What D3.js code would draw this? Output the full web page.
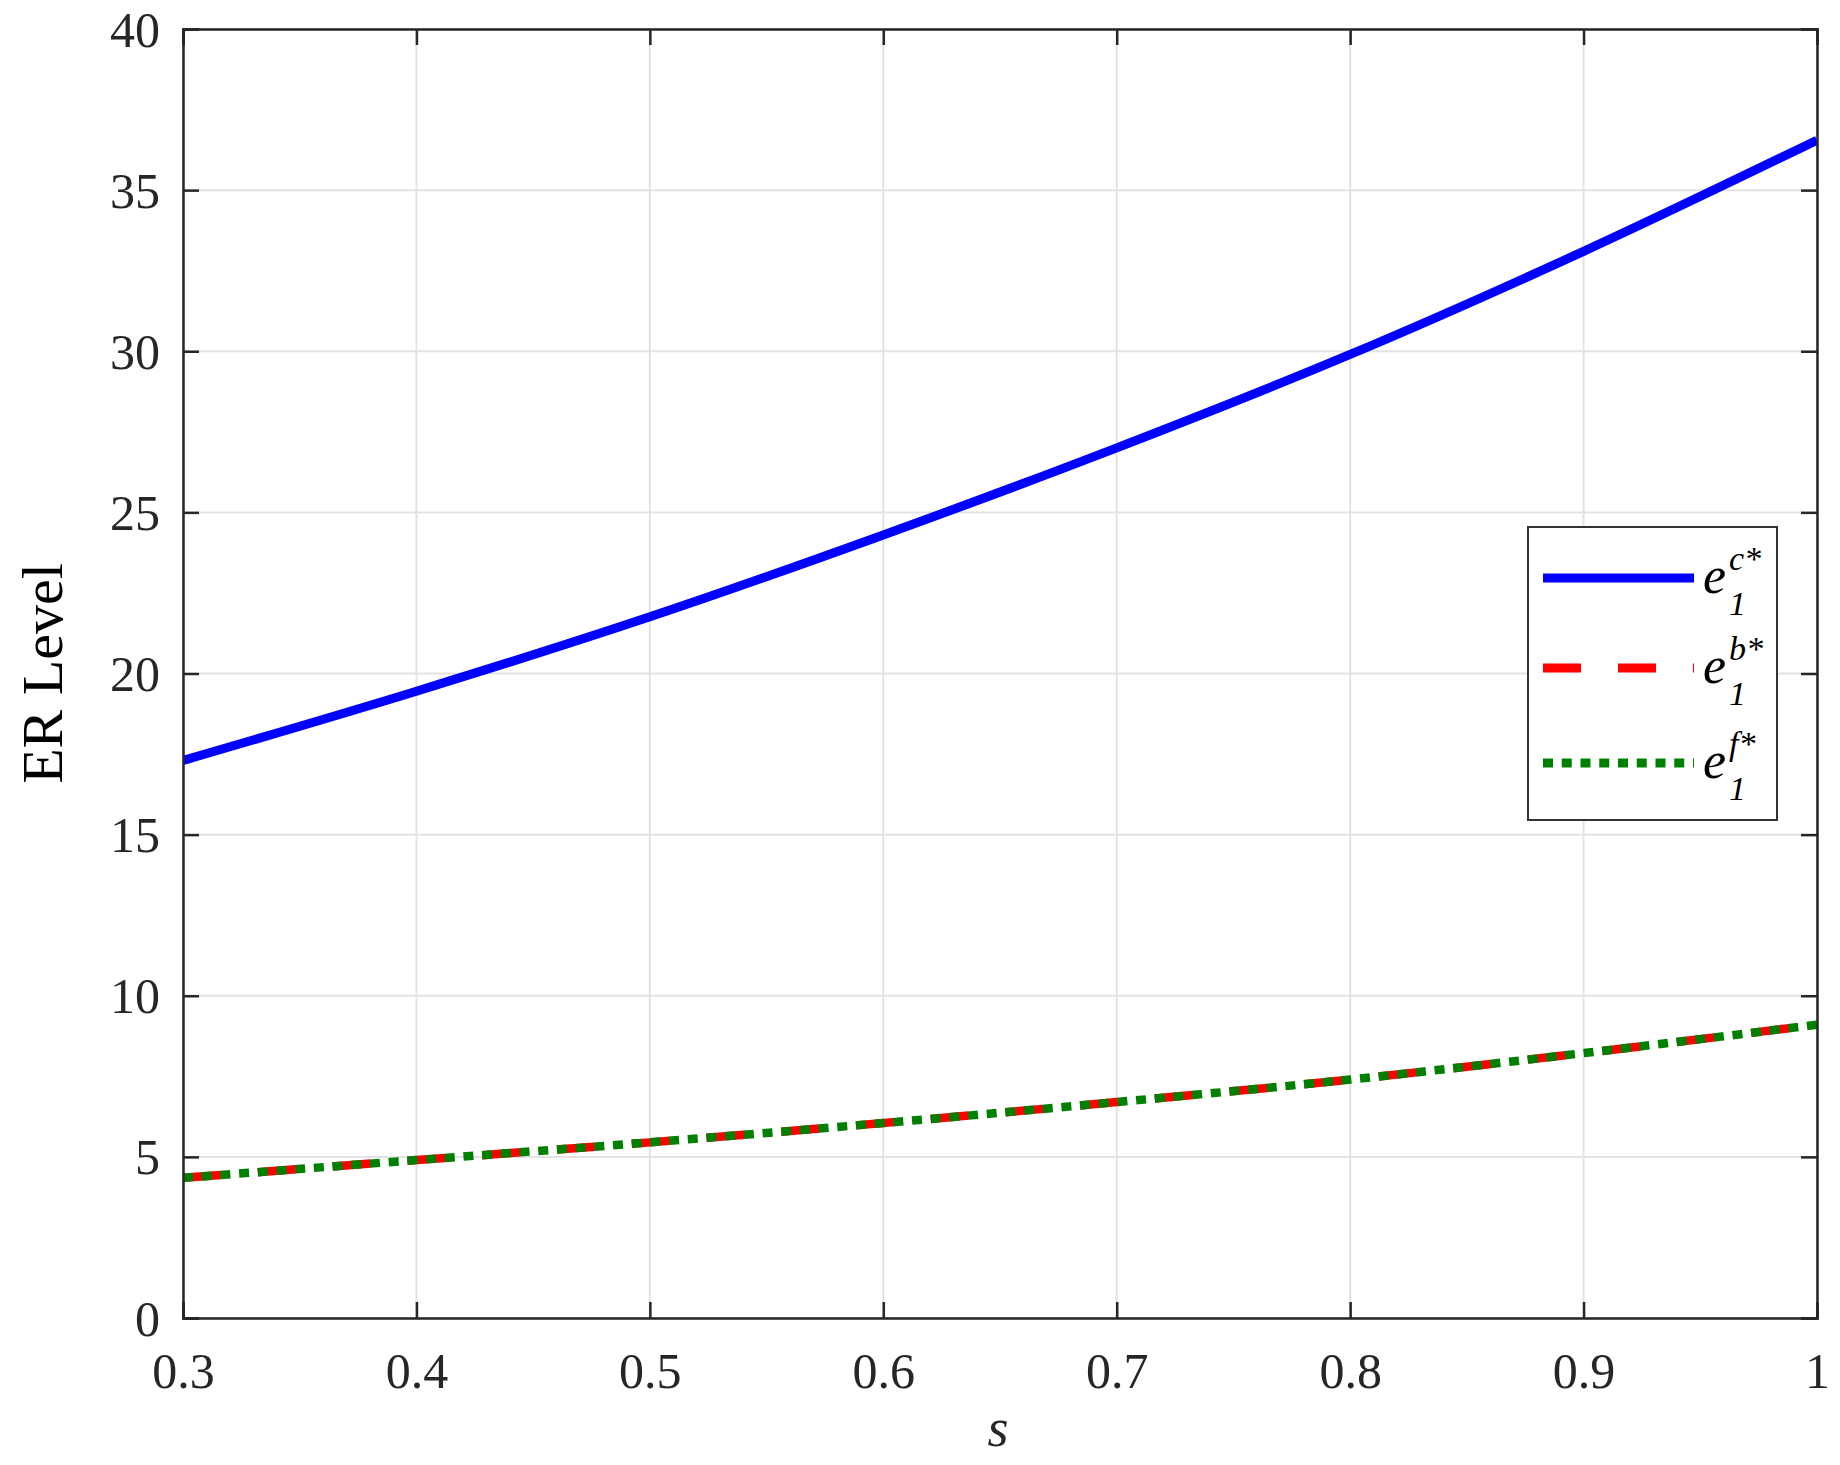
<!DOCTYPE html>
<html>
<head>
<meta charset="utf-8">
<script src="https://cdn.jsdelivr.net/npm/d3@7"></script>
<style>
  html, body { margin: 0; padding: 0; background: #fff; }
  svg { display: block; }
</style>
</head>
<body>
<script>
// ---- data ----
const sValues = [0.3, 0.4, 0.5, 0.6, 0.7, 0.8, 0.9, 1.0];
const e1c = [17.3, 19.45, 21.76, 24.3, 27.0, 29.9, 33.1, 36.55];
const e1b = [4.35, 4.9, 5.45, 6.05, 6.7, 7.4, 8.22, 9.1];
const e1f = [4.35, 4.9, 5.45, 6.05, 6.7, 7.4, 8.22, 9.1];
const xTicks = [0.3, 0.4, 0.5, 0.6, 0.7, 0.8, 0.9, 1];
const yTicks = [0, 5, 10, 15, 20, 25, 30, 35, 40];
const xLabel = "s";
const yLabel = "ER Level";

const W = 1840, H = 1465;
const L = 183, R = 1817, T = 29, B = 1318;
const font = "'Liberation Serif', 'Times New Roman', serif";

const svg = d3.select("body").append("svg").attr("width", W).attr("height", H);

const x = d3.scaleLinear().domain([0.3, 1]).range([L, R]);
const y = d3.scaleLinear().domain([0, 40]).range([B, T]);

// grid
const grid = svg.append("g");
grid.selectAll("line.gx").data(xTicks).join("line")
  .attr("x1", d => x(d)).attr("x2", d => x(d)).attr("y1", T).attr("y2", B)
  .attr("stroke", "#e3e3e3").attr("stroke-width", 2);
grid.selectAll("line.gy").data(yTicks).join("line")
  .attr("y1", d => y(d)).attr("y2", d => y(d)).attr("x1", L).attr("x2", R)
  .attr("stroke", "#e3e3e3").attr("stroke-width", 2);

// clip
svg.append("clipPath").attr("id", "clip").append("rect")
  .attr("x", L).attr("y", T).attr("width", R - L).attr("height", B - T);

const line = d3.line().x((d, i) => x(sValues[i])).y(d => y(d)).curve(d3.curveMonotoneX);
const plot = svg.append("g").attr("clip-path", "url(#clip)");

plot.append("path").datum(e1c).attr("d", line)
  .attr("fill", "none").attr("stroke", "#0000ff").attr("stroke-width", 9);
plot.append("path").datum(e1b).attr("d", line)
  .attr("fill", "none").attr("stroke", "#ff0000").attr("stroke-width", 8.5)
  .attr("stroke-dasharray", "38,37");
plot.append("path").datum(e1f).attr("d", line)
  .attr("fill", "none").attr("stroke", "#008000").attr("stroke-width", 8.5)
  .attr("stroke-dasharray", "10,8.75");

// axes with inward ticks
const axisColor = "#262626";
const xAxisB = svg.append("g").attr("transform", `translate(0,${B})`)
  .call(d3.axisBottom(x).tickValues(xTicks).tickSize(-16).tickPadding(0).tickFormat(d => String(d)));
const xAxisT = svg.append("g").attr("transform", `translate(0,${T})`)
  .call(d3.axisTop(x).tickValues(xTicks).tickSize(-16).tickFormat(""));
const yAxisL = svg.append("g").attr("transform", `translate(${L},0)`)
  .call(d3.axisLeft(y).tickValues(yTicks).tickSize(-16).tickFormat(d => String(d)));
const yAxisR = svg.append("g").attr("transform", `translate(${R},0)`)
  .call(d3.axisRight(y).tickValues(yTicks).tickSize(-16).tickFormat(""));

[xAxisB, xAxisT, yAxisL, yAxisR].forEach(g => {
  g.select(".domain").attr("stroke", axisColor).attr("stroke-width", 2.5);
  g.selectAll(".tick line").attr("stroke", axisColor).attr("stroke-width", 2.5);
  g.selectAll("text").attr("font-family", font).attr("font-size", 50).attr("fill", "#262626");
});
xAxisB.selectAll(".tick text").attr("y", 70).attr("dy", 0);
yAxisL.selectAll(".tick text").attr("x", -23).attr("dy", "0.34em");

// axis labels
svg.append("text").attr("x", (L + R) / 2 - 2).attr("y", 1446)
  .attr("text-anchor", "middle").attr("font-family", font).attr("font-style", "italic")
  .attr("font-size", 54).attr("fill", "#262626").text(xLabel);
svg.append("text").attr("transform", `translate(62,${(T + B) / 2}) rotate(-90)`)
  .attr("text-anchor", "middle").attr("font-family", font)
  .attr("font-size", 58).attr("fill", "#000").text(yLabel);

// legend
const lg = svg.append("g");
lg.append("rect").attr("x", 1528).attr("y", 527).attr("width", 249).attr("height", 293)
  .attr("fill", "#fff").attr("stroke", "#333").attr("stroke-width", 2);
const legendItems = [
  { sup: "c*", color: "#0000ff", dash: null, ly: 578 },
  { sup: "b*", color: "#ff0000", dash: "38,37", ly: 668 },
  { sup: "f*", color: "#008000", dash: "10,8.75", ly: 763 }
];
legendItems.forEach(it => {
  lg.append("line").attr("x1", 1543).attr("x2", 1694).attr("y1", it.ly).attr("y2", it.ly)
    .attr("stroke", it.color).attr("stroke-width", 9)
    .attr("stroke-dasharray", it.dash);
  const base = it.ly + 15;
  lg.append("text").attr("x", 1703).attr("y", base)
    .attr("font-family", font).attr("font-style", "italic").attr("font-size", 52)
    .attr("fill", "#000").text("e");
  lg.append("text").attr("x", 1729).attr("y", base - 23)
    .attr("font-family", font).attr("font-style", "italic").attr("font-size", 34)
    .attr("fill", "#000").text(it.sup);
  lg.append("text").attr("x", 1729).attr("y", base + 22)
    .attr("font-family", font).attr("font-style", "italic").attr("font-size", 34)
    .attr("fill", "#000").text("1");
});
</script>
</body>
</html>
